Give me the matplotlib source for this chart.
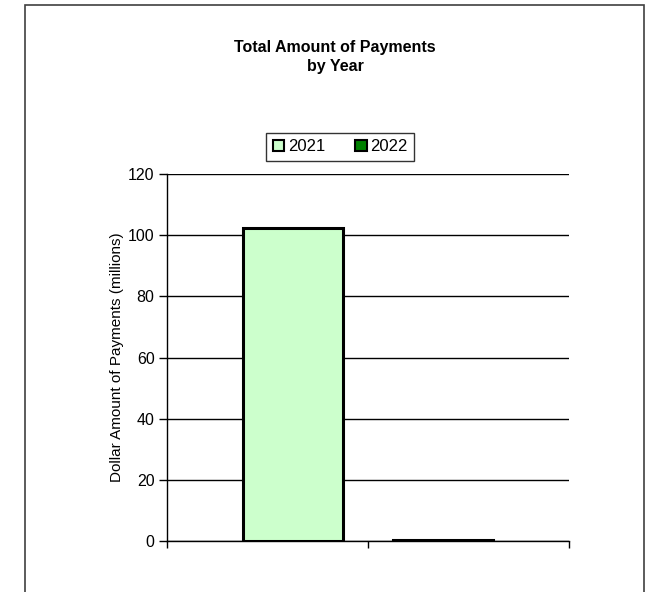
import matplotlib.pyplot as plt
from matplotlib.patches import Patch, Rectangle

plt.rcParams['font.family'] = ['Liberation Sans', 'DejaVu Sans']

# data
years = ['2021', '2022']
payments = [102.2, 0.3]  # millions
bar_colors = ['#CCFFCC', '#008000']
y_ticks = [0, 20, 40, 60, 80, 100, 120]

fig = plt.figure(figsize=(6.47, 5.92), dpi=100)

# outer chart frame
fig.patches.append(Rectangle((25 / 647, -0.05), 619 / 647, 1.05 - 5 / 592,
                             transform=fig.transFigure, fill=False,
                             edgecolor='#404040', linewidth=1.2))

ax = fig.add_axes([167 / 647, 1 - 541 / 592, 402 / 647, 367 / 592])

pos = [0, 1]
ax.bar(pos, payments, width=0.67, color=bar_colors, edgecolor='black',
       linewidth=2.2, zorder=3)

ax.set_ylim(0, 120)
ax.set_yticks(y_ticks)
ax.yaxis.grid(True, color='black', linewidth=1)
ax.set_axisbelow(True)

ax.set_xlim(-0.84, 1.84)
ax.set_xticks([-0.84, 0.5, 1.84])
ax.set_xticklabels([])
ax.tick_params(axis='x', length=5, width=1, direction='out')
ax.tick_params(axis='y', length=6, width=1, labelsize=11.5, pad=3)

for s in ['top', 'right']:
    ax.spines[s].set_visible(False)
for s in ['left', 'bottom']:
    ax.spines[s].set_linewidth(1)

ax.set_ylabel('Dollar Amount of Payments (millions)', fontsize=11, labelpad=3)

fig.text(0.518, 1 - 57 / 592, 'Total Amount of Payments\nby Year', ha='center',
         va='center', fontsize=11.5, fontweight='bold', linespacing=1.4)

handles = [Patch(facecolor=c, edgecolor='black', linewidth=1.5) for c in bar_colors]
leg = fig.legend(handles, years, loc='center', bbox_to_anchor=(340 / 647, 1 - 147 / 592),
                 ncol=2, fontsize=12, frameon=True, fancybox=False,
                 handlelength=0.7, handleheight=0.7, handletextpad=0.2,
                 columnspacing=1.8, borderpad=0.4, borderaxespad=0)
leg.get_frame().set_edgecolor('black')
leg.get_frame().set_linewidth(1)

fig.savefig('out.png', dpi=100)
